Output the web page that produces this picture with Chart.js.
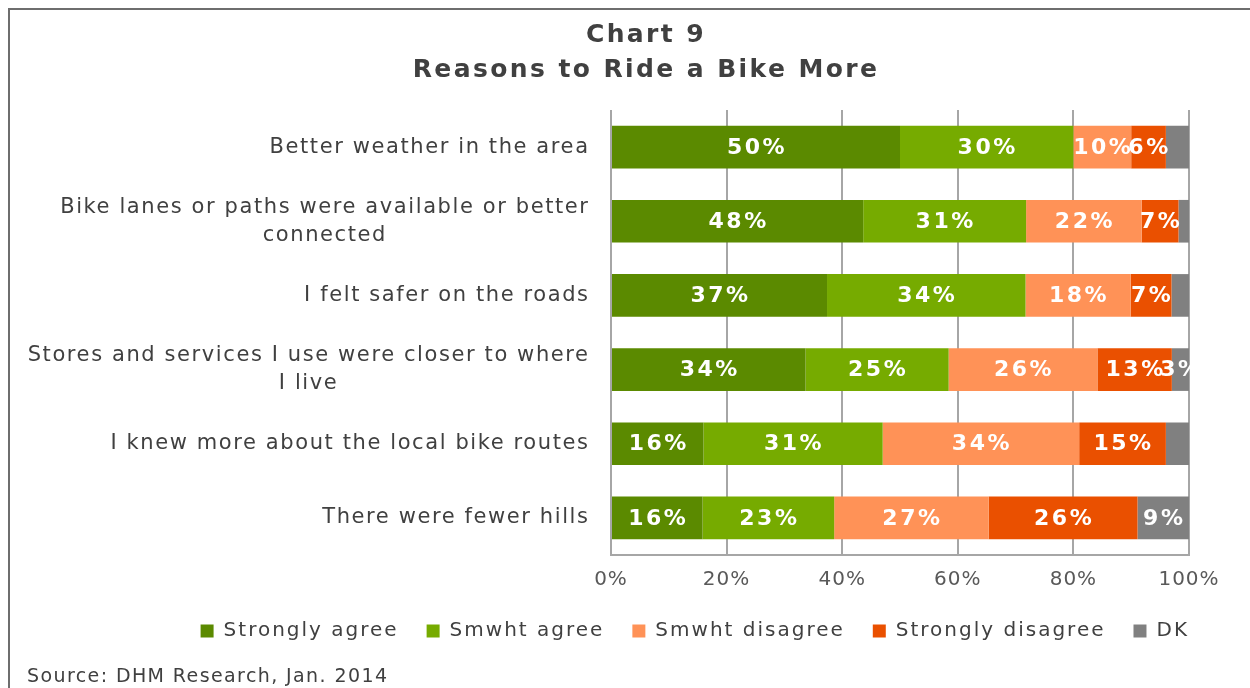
<!DOCTYPE html>
<html><head><meta charset="utf-8">
<script src="https://cdn.jsdelivr.net/npm/chart.js@4/dist/chart.umd.min.js"></script>
<style>
html,body{margin:0;padding:0;width:1250px;height:688px;overflow:hidden;background:#fff;}
#frame{position:absolute;left:8px;top:8px;width:1300px;height:720px;border:2px solid #6e6e6e;box-sizing:border-box;}
#wrap{position:absolute;left:0;top:0;width:1250px;height:688px;}
#source{position:absolute;left:27px;top:664px;font:19px "DejaVu Sans";color:#404040;white-space:nowrap;line-height:22px;letter-spacing:1.4px;}
</style></head><body>
<div id="frame"></div>
<div id="wrap"><canvas id="c" width="1250" height="688"></canvas></div>
<div id="source">Source: DHM Research, Jan. 2014</div>
<script>
const categories = [
  ["Better weather in the area"],
  ["Bike lanes or paths were available or better", "connected"],
  ["I felt safer on the roads"],
  ["Stores and services I use were closer to where", "I live"],
  ["I knew more about the local bike routes"],
  ["There were fewer hills"]
];
const seriesNames = ["Strongly agree", "Smwht agree", "Smwht disagree", "Strongly disagree", "DK"];
const stronglyAgree    = [50, 48, 37, 34, 16, 16];
const smwhtAgree       = [30, 31, 34, 25, 31, 23];
const smwhtDisagree    = [10, 22, 18, 26, 34, 27];
const stronglyDisagree = [6, 7, 7, 13, 15, 26];
const dontKnow         = [4, 2, 3, 3, 4, 9];
const dkLabelShown     = [false, false, false, true, false, true];
const xTicks = [0, 20, 40, 60, 80, 100];

const colors = ["#5b8a00", "#76ab00", "#ff9257", "#ea5000", "#808080"];
const rawSeries = [stronglyAgree, smwhtAgree, smwhtDisagree, stronglyDisagree, dontKnow];
const rowTotals = categories.map((_, i) => rawSeries.reduce((s, arr) => s + arr[i], 0));

const datasets = rawSeries.map((arr, k) => ({
  label: seriesNames[k],
  data: arr.map((v, i) => v / rowTotals[i] * 100),
  rawValues: arr,
  showLabels: k === 4 ? dkLabelShown : arr.map(() => true),
  backgroundColor: colors[k],
  borderWidth: 0,
  barPercentage: 0.575,
  categoryPercentage: 1,
  xAxisID: 'x',
  yAxisID: 'y'
}));

const FONT = "'DejaVu Sans', Verdana, sans-serif";

function withSpacing(obj, method, sp) {
  if (!obj || !obj[method] || obj[method].__wrapped) return;
  const orig = obj[method];
  const fn = function (...a) {
    const ctx = this.ctx;
    const prev = ctx.letterSpacing;
    ctx.letterSpacing = sp;
    try { return orig.apply(this, a); } finally { ctx.letterSpacing = prev; }
  };
  fn.__wrapped = true;
  obj[method] = fn;
}

const spacingPlugin = {
  id: 'spacing',
  beforeLayout(chart) {
    withSpacing(chart.legend, 'fit', '2px');
    withSpacing(chart.legend, 'draw', '2px');
    withSpacing(chart.titleBlock, 'draw', '2.4px');
    withSpacing(chart.scales.x, 'fit', '1px');
    withSpacing(chart.scales.x, 'drawLabels', '1px');
  }
};

const labelPlugin = {
  id: 'segLabels',
  afterDatasetsDraw(chart) {
    const ctx = chart.ctx;
    ctx.save();
    ctx.font = "bold 22px " + FONT;
    ctx.fillStyle = "#ffffff";
    ctx.textAlign = "center";
    ctx.textBaseline = "middle";
    ctx.letterSpacing = "2.5px";
    chart.data.datasets.forEach((ds, di) => {
      const meta = chart.getDatasetMeta(di);
      meta.data.forEach((bar, i) => {
        if (!ds.showLabels[i]) return;
        const cx = (bar.x + bar.base) / 2;
        ctx.fillText(ds.rawValues[i] + "%", cx + 1, bar.y + 1);
      });
    });
    ctx.restore();
  }
};

const catPlugin = {
  id: 'catLabels',
  afterDraw(chart) {
    const ctx = chart.ctx;
    const y = chart.scales.y;
    const rightX = 588;
    const lh = 28;
    ctx.save();
    ctx.font = "21px " + FONT;
    ctx.fillStyle = "#404040";
    ctx.textBaseline = "middle";
    ctx.letterSpacing = "1.6px";
    chart.data.labels.forEach((lines, i) => {
      const yc = y.getPixelForValue(i);
      const n = lines.length;
      const w = Math.max(...lines.map(l => ctx.measureText(l).width));
      lines.forEach((line, j) => {
        const ly = yc + (j - (n - 1) / 2) * lh;
        if (n === 1) { ctx.textAlign = "right"; ctx.fillText(line, rightX + 1.6, ly); }
        else { ctx.textAlign = "center"; ctx.fillText(line, rightX - w / 2 + 1.6, ly); }
      });
    });
    ctx.restore();
  }
};

new Chart(document.getElementById('c'), {
  type: 'bar',
  data: { labels: categories, datasets },
  plugins: [spacingPlugin, labelPlugin, catPlugin],
  options: {
    indexAxis: 'y',
    responsive: false,
    devicePixelRatio: 1,
    animation: false,
    layout: { padding: { left: 75, right: 33, top: 0, bottom: 37 } },
    scales: {
      x: {
        stacked: true,
        min: 0, max: 100,
        afterBuildTicks(s) { s.ticks = xTicks.map(v => ({ value: v })); },
        afterFit(s) { s.height -= 12; },
        ticks: { callback: v => v + "%", font: { family: FONT, size: 20 }, color: "#595959", padding: 13, maxRotation: 0 },
        grid: { color: "#a6a6a6", lineWidth: 2, drawTicks: false },
        border: { display: true, color: "#a6a6a6", width: 2 }
      },
      y: {
        stacked: true,
        ticks: { display: false },
        grid: { display: false },
        border: { display: false },
        afterFit(s) { s.width = 536; }
      },
      y2: {
        type: 'linear',
        position: 'right',
        ticks: { display: false },
        grid: { display: false },
        border: { display: false },
        afterFit(s) { s.width = 28; }
      }
    },
    plugins: {
      title: {
        display: true,
        text: ["Chart 9", "Reasons to Ride a Bike More"],
        font: { family: FONT, size: 25, weight: 'bold', lineHeight: 1.4 },
        color: "#404040",
        padding: { top: 18, bottom: 22 }
      },
      legend: {
        position: 'bottom',
        align: 'end',
        labels: { font: { family: FONT, size: 20 }, color: "#404040", boxWidth: 13, boxHeight: 13, padding: 28 }
      },
      tooltip: { enabled: false }
    }
  }
});
</script>
</body></html>
